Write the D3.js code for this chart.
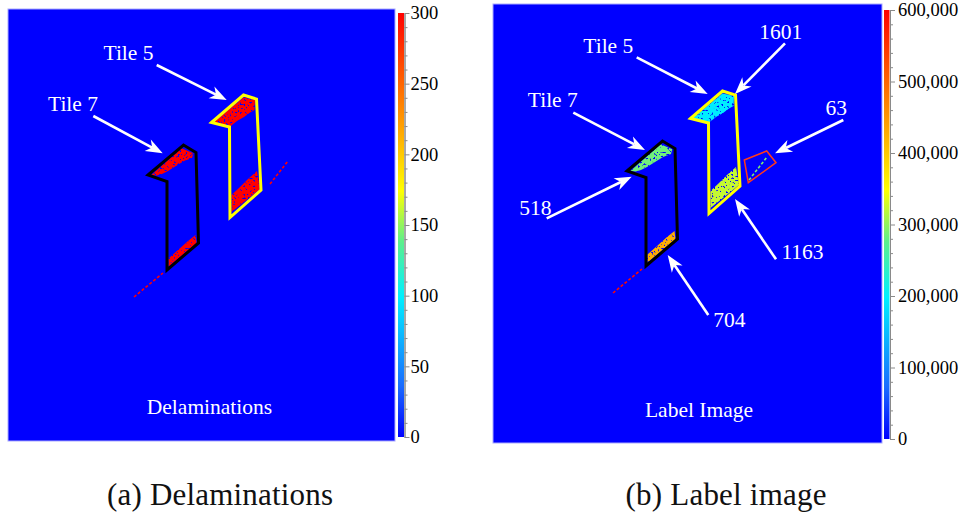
<!DOCTYPE html>
<html>
<head>
<meta charset="utf-8">
<script src="https://cdn.jsdelivr.net/npm/d3@7"></script>
<style>
  body { margin: 0; background: #fff; }
  svg text { font-family: "Liberation Serif", "Times New Roman", serif; }
  .ann { fill: #fff; font-size: 21.5px; text-anchor: middle; }
  .cbar .domain, .cbar line { stroke: #8a8a8a; }
  .cbar text { fill: #000; font-size: 18.5px; }
  .caption { font-size: 31px; text-anchor: middle; fill: #111; }
</style>
</head>
<body>
<div id="chart"></div>
<script>
'use strict';

// image coordinates (pixels of the scanned image) for outlines and damage zones
let tile5Outline = [[203.5, 113.5], [235.5, 86], [248.5, 90], [253, 181], [222, 208.5], [221.5, 118]];
let tile7Outline = [[140, 166], [175.5, 136], [188, 143.5], [190.5, 234], [159, 261], [159, 172.5]];
let box63Outline = [[257.3, 155], [279.7, 146], [289, 157.7], [261.3, 177.7]];

let t5Top = [[206, 113], [235.5, 88.5], [247, 91], [246.5, 101], [242, 103.5], [236, 108], [229, 112], [224, 116], [222, 118.5]];
let t5Bottom = [[223.5, 186], [232, 178], [240, 170], [249, 162], [252, 180], [223.5, 203]];
let t7Top = [[143.5, 166], [173.5, 139.3], [185.3, 144.3], [184, 149], [176, 152], [168, 157], [160, 162], [154, 165], [148.7, 166.5]];
let t7Bottom = [[160.5, 249.5], [170, 241], [180, 232], [187.5, 226], [188.5, 234.3], [160.5, 257.5]];
let streakLow = [[126, 288], [155, 264]];
let streakHigh = [[262, 175], [280, 152]];

let zoneShapes = [t5Top, t5Bottom, t7Top, t7Bottom];
let delamZoneValues = [300, 300, 300, 300];
let labelZoneValues = [195000, 322000, 285000, 425000];
let streakShapes = [streakLow, streakHigh];
let delamStreakValues = [300, 300];
let labelStreakValues = [590000, 290000];

let delamTicks = [0, 50, 100, 150, 200, 250, 300];
let labelTicks = [0, 100000, 200000, 300000, 400000, 500000, 600000];

// annotations: text, text anchor point, arrow start, arrow tip (image coordinates)
let delamNotes = [
    { text: 'Tile 5', at: [120.5, 51], from: [148.7, 56], to: [218.7, 91] },
    { text: 'Tile 7', at: [65, 101.5], from: [85.3, 107], to: [154.7, 144.3] },
    { text: 'Delaminations', at: [201.5, 405] }
];
let labelNotes = [
    { text: 'Tile 5', at: [121.3, 48.3], from: [149.7, 52.3], to: [220.7, 89] },
    { text: '1601', at: [293.8, 34], from: [298, 38.3], to: [248, 89] },
    { text: 'Tile 7', at: [65.8, 102], from: [86.3, 107.7], to: [158, 145] },
    { text: '63', at: [349.3, 110], from: [356.3, 115], to: [288, 148.3] },
    { text: '518', at: [48.3, 209.7], from: [59.7, 213.3], to: [144.7, 171.7] },
    { text: '1163', at: [315.5, 254], from: [289, 254.3], to: [248, 194] },
    { text: '704', at: [242.3, 321.7], from: [221.3, 310], to: [180.7, 250] },
    { text: 'Label Image', at: [212, 412] }
];

let width = 967, height = 521;
let svg = d3.select('#chart').append('svg')
    .attr('width', width)
    .attr('height', height);

let stops = [0, 0.12, 0.33, 0.46, 0.58, 0.72, 0.87, 1];
let stopColors = ['#0000ff', '#1a6bff', '#00f0ff', '#5cef8c', '#ffff00', '#ffa800', '#ff5000', '#ff0000'];

function makeColor(max) {
    return d3.scaleLinear()
        .domain(stops.map(s => s * max))
        .range(stopColors)
        .clamp(true);
}

let defs = svg.append('defs');
let grad = defs.append('linearGradient')
    .attr('id', 'cbgrad')
    .attr('x1', 0).attr('y1', 1).attr('x2', 0).attr('y2', 0);
grad.selectAll('stop')
    .data(stops)
    .enter()
    .append('stop')
    .attr('offset', d => d)
    .attr('stop-color', (d, i) => stopColors[i]);

// speckled look of the thresholded scan
let speckle = defs.append('filter')
    .attr('id', 'speckle')
    .attr('x', '-5%').attr('y', '-5%')
    .attr('width', '110%').attr('height', '110%');
speckle.append('feTurbulence')
    .attr('type', 'fractalNoise')
    .attr('baseFrequency', 0.5)
    .attr('numOctaves', 2)
    .attr('seed', 7)
    .attr('result', 'n');
speckle.append('feColorMatrix')
    .attr('in', 'n')
    .attr('type', 'matrix')
    .attr('values', '0 0 0 0 0  0 0 0 0 0  0 0 0 0 0  10 0 0 0 -2.9')
    .attr('result', 'm');
speckle.append('feComposite')
    .attr('in', 'SourceGraphic')
    .attr('in2', 'm')
    .attr('operator', 'in');

let arrowHead = 'M0,0 L-17,-6.5 L-12,0 L-17,6.5 Z';

function drawPanel(cfg) {
    let x = d3.scaleLinear().domain(cfg.xDomain).range(cfg.xRange);
    let y = d3.scaleLinear().domain(cfg.yDomain).range(cfg.yRange);
    let color = makeColor(cfg.max);
    let g = svg.append('g');
    let line = d3.line().x(d => x(d[0])).y(d => y(d[1]));

    g.append('rect')
        .attr('x', cfg.xRange[0])
        .attr('y', cfg.yRange[0])
        .attr('width', cfg.xRange[1] - cfg.xRange[0])
        .attr('height', cfg.yRange[1] - cfg.yRange[0])
        .attr('fill', '#0000ff')
        .attr('stroke', '#a9a9ff')
        .attr('stroke-width', 1);

    g.append('g')
        .attr('filter', 'url(#speckle)')
        .selectAll('path.zone')
        .data(zoneShapes)
        .enter()
        .append('path')
        .attr('class', 'zone')
        .attr('d', d => line(d) + 'Z')
        .attr('fill', (d, i) => color(cfg.zoneValues[i]));

    g.selectAll('path.streak')
        .data(streakShapes)
        .enter()
        .append('path')
        .attr('class', 'streak')
        .attr('d', line)
        .attr('fill', 'none')
        .attr('stroke', (d, i) => color(cfg.streakValues[i]))
        .attr('stroke-width', 1.6)
        .attr('stroke-dasharray', '3 2');

    let outlines = [{ pts: tile5Outline, c: '#ffff00', w: 3 }, { pts: tile7Outline, c: '#000', w: 3 }];
    if (cfg.box) outlines.push({ pts: box63Outline, c: '#ff3a1a', w: 1.5 });
    g.selectAll('path.outline')
        .data(outlines)
        .enter()
        .append('path')
        .attr('class', 'outline')
        .attr('d', d => line(d.pts) + 'Z')
        .attr('fill', 'none')
        .attr('stroke', d => d.c)
        .attr('stroke-width', d => d.w)
        .attr('stroke-linejoin', 'miter');

    let arrows = cfg.notes.filter(d => d.from);
    arrows.forEach(function (d) {
        let x0 = x(d.from[0]), y0 = y(d.from[1]), x1 = x(d.to[0]), y1 = y(d.to[1]);
        let ang = Math.atan2(y1 - y0, x1 - x0);
        let len = Math.hypot(x1 - x0, y1 - y0) - 12;
        g.append('line')
            .attr('x1', x0).attr('y1', y0)
            .attr('x2', x0 + Math.cos(ang) * len)
            .attr('y2', y0 + Math.sin(ang) * len)
            .attr('stroke', '#fff')
            .attr('stroke-width', 2.6);
        g.append('path')
            .attr('d', arrowHead)
            .attr('fill', '#fff')
            .attr('transform', `translate(${x1},${y1}) rotate(${ang * 180 / Math.PI})`);
    });

    g.selectAll('text.ann')
        .data(cfg.notes)
        .enter()
        .append('text')
        .attr('class', 'ann')
        .attr('x', d => x(d.at[0]))
        .attr('y', d => y(d.at[1]))
        .text(d => d.text);

    // colour bar
    let cb = cfg.bar;
    let cy = d3.scaleLinear().domain([0, cfg.max]).range([cb.y1, cb.y0]);
    g.append('rect')
        .attr('x', cb.x)
        .attr('y', cb.y0)
        .attr('width', cb.w)
        .attr('height', cb.y1 - cb.y0)
        .attr('fill', 'url(#cbgrad)');

    let minor = d3.range(0, cfg.max + 1e-9, cfg.max / 30).filter(v => cfg.ticks.indexOf(Math.round(v)) < 0);
    g.append('g')
        .attr('class', 'cbar')
        .attr('transform', `translate(${cb.x + cb.w + 0.5},0)`)
        .call(d3.axisRight(cy).tickValues(minor).tickSize(3).tickFormat('').tickSizeOuter(0));
    g.append('g')
        .attr('class', 'cbar')
        .attr('transform', `translate(${cb.x + cb.w + 0.5},0)`)
        .call(d3.axisRight(cy).tickValues(cfg.ticks).tickSize(5).tickPadding(cb.pad)
            .tickSizeOuter(0).tickFormat(cfg.fmt));

    svg.append('text')
        .attr('class', 'caption')
        .attr('x', cfg.caption.x)
        .attr('y', 505)
        .attr('textLength', cfg.caption.len)
        .attr('lengthAdjust', 'spacing')
        .text(cfg.caption.text);
}

drawPanel({
    xDomain: [0, 387], xRange: [8, 395],
    yDomain: [0, 432], yRange: [9, 441],
    max: 300,
    zoneValues: delamZoneValues,
    streakValues: delamStreakValues,
    notes: delamNotes,
    box: false,
    ticks: delamTicks,
    fmt: d3.format('d'),
    bar: { x: 398, w: 6, y0: 13, y1: 437, pad: 1 },
    caption: { text: '(a) Delaminations', x: 220, len: 226 }
});

drawPanel({
    xDomain: [6, 395], xRange: [493, 882],
    yDomain: [-1, 438], yRange: [4, 443],
    max: 600000,
    zoneValues: labelZoneValues,
    streakValues: labelStreakValues,
    notes: labelNotes,
    box: true,
    ticks: labelTicks,
    fmt: d3.format(','),
    bar: { x: 884, w: 5.5, y0: 10, y1: 439, pad: 3 },
    caption: { text: '(b) Label image', x: 726, len: 201 }
});
</script>
</body>
</html>
